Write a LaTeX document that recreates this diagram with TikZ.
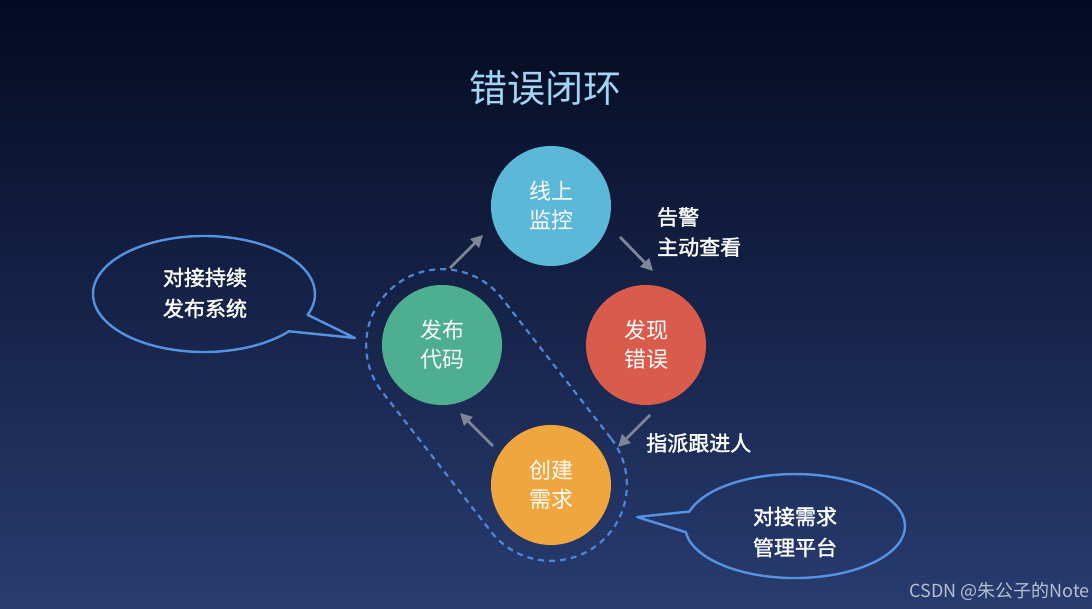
\documentclass[tikz,border=0pt]{standalone}
\usepackage{fontspec}
\setmainfont{Noto Sans CJK SC}
\newfontfamily\cjk{Noto Sans CJK SC}
\newfontfamily\cjkmed{Noto Sans CJK SC}[FakeBold=1.6]
\usetikzlibrary{arrows.meta,shapes.geometric}
\definecolor{bgtop}{HTML}{040A20}
\definecolor{bgbot}{HTML}{283C70}
\definecolor{cblue}{HTML}{5CB8D8}
\definecolor{cred}{HTML}{D95B4B}
\definecolor{cgreen}{HTML}{4DAE90}
\definecolor{corange}{HTML}{F0A63E}
\definecolor{dashblue}{HTML}{4F85D6}
\definecolor{bubble}{HTML}{5593E2}
\definecolor{arrowgray}{HTML}{7F8796}
\definecolor{titleblue}{HTML}{A2D4F4}
\definecolor{wm}{HTML}{B8C0D0}
\tikzset{
  stepcircle/.style={circle, minimum size=120pt, inner sep=0pt, text=white,
    font=\cjk\fontsize{22}{29}\selectfont, align=center},
  flowarrow/.style={draw=arrowgray, line width=2.8pt, -{Triangle[length=12pt,width=12pt]}},
  sidelabel/.style={text=white, font=\cjkmed\fontsize{21}{30}\selectfont, anchor=west, inner sep=0pt},
  bubbleline/.style={draw=bubble, line width=2.4pt, line join=round},
  bubbletext/.style={text=white, font=\cjkmed\fontsize{21}{31}\selectfont, align=center}
}
\begin{document}
\begin{tikzpicture}[x=1pt,y=1pt]
\useasboundingbox (0,0) rectangle (1092,609);
\shade[top color=bgtop, bottom color=bgbot] (0,0) rectangle (1092,609);

% title
\node[text=titleblue, font=\cjk\fontsize{38}{44}\selectfont] (title) at (545,521) {错误闭环};

% dashed capsule
\node[draw=dashblue, line width=2.2pt, dash pattern=on 6pt off 5pt,
  rounded corners=76pt, minimum width=329pt, minimum height=152pt,
  inner sep=0pt, rotate=-52.1] (capsule) at (496.5,194) {};

% circles
\node[stepcircle, fill=cblue] (xs) at (551,403) {线上\\监控};
\node[stepcircle, fill=cred] (fx) at (646,264) {发现\\错误};
\node[stepcircle, fill=cgreen] (fb) at (442,264) {发布\\代码};
\node[stepcircle, fill=corange] (cj) at (551,124) {创建\\需求};

% arrow end points
\coordinate (a1s) at (450,341); \coordinate (a1e) at (483,374);
\coordinate (a2s) at (620,372); \coordinate (a2e) at (653,338);
\coordinate (a3s) at (650,194); \coordinate (a3e) at (618,162);
\coordinate (a4s) at (493,163); \coordinate (a4e) at (460,196);
\draw[flowarrow] (a1s) -- (a1e);
\draw[flowarrow] (a2s) -- (a2e);
\draw[flowarrow] (a3s) -- (a3e);
\draw[flowarrow] (a4s) -- (a4e);

% labels
\node[sidelabel] (l1) at (657,392) {告警};
\node[sidelabel] (l2) at (657,362) {主动查看};
\node[sidelabel] (l3) at (646,166) {指派跟进人};

% left bubble
\draw[bubbleline] (307.6,294.2) arc[start angle=-21, end angle=320, x radius=111, y radius=58] -- (355,271) -- cycle;
\node[bubbletext] (lb) at (205,316) {对接持续\\发布系统};

% right bubble
\draw[bubbleline] (685.8,76.8) arc[start angle=186.8, end angle=523.8, x radius=110, y radius=52] -- (637,92) -- cycle;
\node[bubbletext] (rb) at (795,77) {对接需求\\管理平台};

% watermark
\node[text=wm, font=\cjk\fontsize{18}{20}\selectfont, anchor=east, inner sep=0pt] (wmk) at (1090,18) {CSDN @朱公子的Note};
\end{tikzpicture}
\end{document}
